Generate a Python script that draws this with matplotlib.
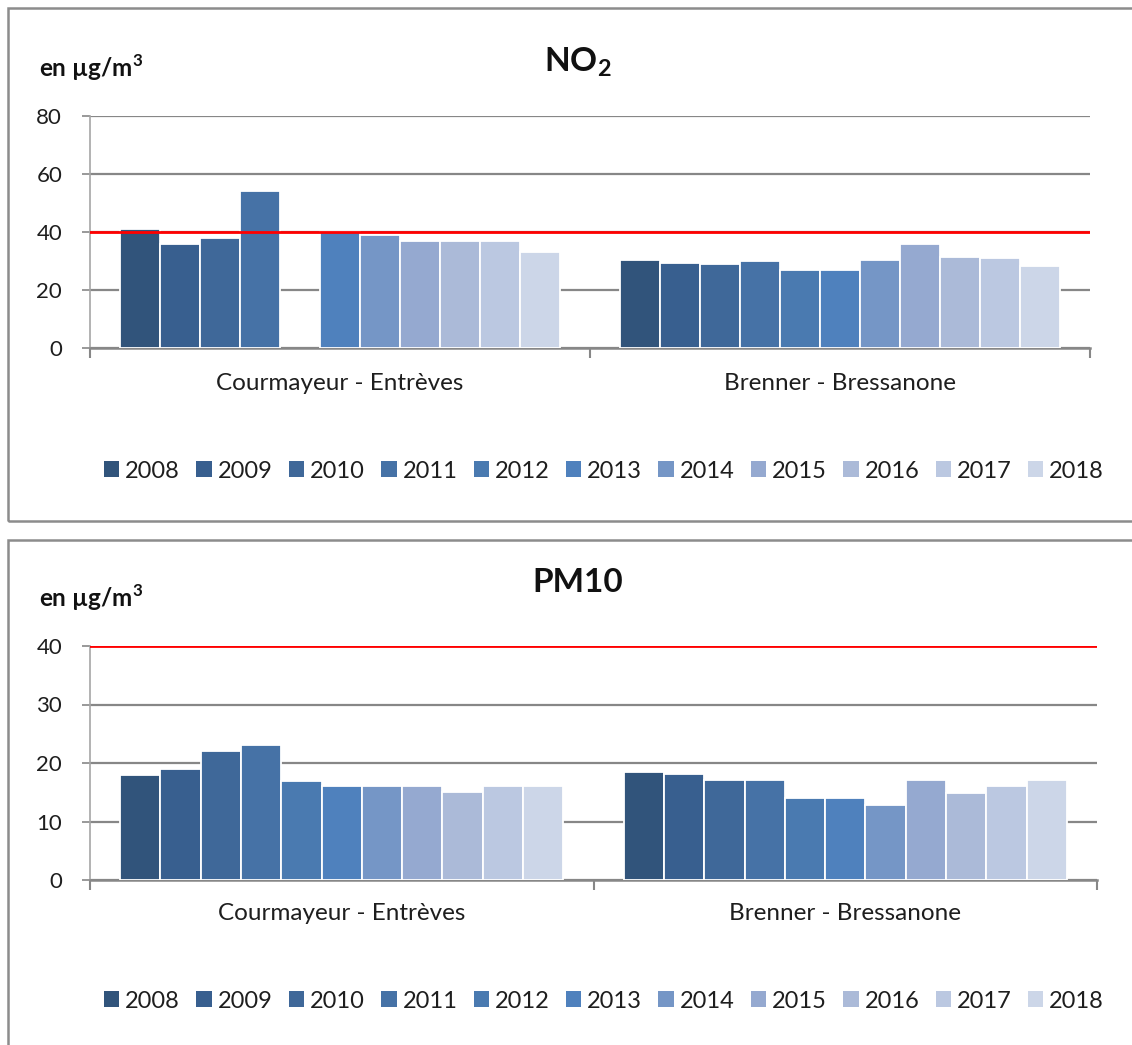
import numpy as np
import matplotlib
matplotlib.use("Agg")
import matplotlib.pyplot as plt
from matplotlib.patches import Rectangle, Patch

plt.rcParams['font.family'] = ['Lato', 'DejaVu Sans']

# ---------------- data ----------------
stations = ["Courmayeur - Entrèves", "Brenner - Bressanone"]
years = ["2008", "2009", "2010", "2011", "2012", "2013", "2014", "2015", "2016", "2017", "2018"]
colors = ["#31547b", "#385f8f", "#3f6899", "#4672a6", "#4a7ab0", "#4f81bd",
          "#7596c6", "#95a9d0", "#abbad8", "#bbc8e1", "#ccd6e8"]

# NO2 annual means (µg/m3), one list per station, ordered by year
no2_courmayeur = [41, 36, 38, 54, np.nan, 40, 39, 37, 37, 37, 33]
no2_brenner = [30.5, 29.2, 28.9, 30.1, 27, 27, 30.5, 35.7, 31.5, 30.9, 28.4]
no2_limit = 40

# PM10 annual means (µg/m3)
pm10_courmayeur = [18, 19, 22, 23, 17, 16, 16, 16, 15, 16, 16]
pm10_brenner = [18.4, 18.2, 17.1, 17.1, 14, 14, 12.9, 17.1, 14.9, 16, 17.1]
pm10_limit = 40

no2_ticks = [0, 20, 40, 60, 80]
pm10_ticks = [0, 10, 20, 30, 40]

# ---------------- figure ----------------
W, H = 1132, 1045
fig = plt.figure(figsize=(W / 100, H / 100), dpi=100)
fig.patch.set_facecolor("white")

def fx(x):
    return x / W

def fy(y):
    return 1 - y / H

frame_col = "#8c8c8c"
# outer chart frames (extend beyond image on right / bottom)
fig.add_artist(Rectangle((fx(8), fy(521)), fx(1200), fy(8) - fy(521),
                         transform=fig.transFigure, fill=False,
                         edgecolor=frame_col, linewidth=1.8))
fig.add_artist(Rectangle((fx(8), fy(1100)), fx(1200), fy(540) - fy(1100),
                         transform=fig.transFigure, fill=False,
                         edgecolor=frame_col, linewidth=1.8))

grid_col = "#878787"
txt_col = "#1e1e1e"


def draw_panel(ax_box, c_vals, b_vals, limit, ticks, title_parts, title_y,
               unit_y, cat_y, leg_y):
    left, right, top, bottom = ax_box
    ax = fig.add_axes([fx(left), fy(bottom), fx(right - left), fy(top) - fy(bottom)])
    slot = 0.08
    x = np.arange(len(stations))
    for i, yr in enumerate(years):
        vals = [c_vals[i], b_vals[i]]
        ax.bar(x + (i - 5) * slot, vals, width=slot, color=colors[i],
               edgecolor="white", linewidth=1.3, zorder=3, label=yr)
    ax.axhline(limit, color="#ff0000", linewidth=2.0, zorder=4)
    ax.set_xlim(-0.5, 1.5)
    ax.set_ylim(ticks[0], ticks[-1])
    ax.set_yticks(ticks)
    ax.set_yticklabels([str(t) for t in ticks], fontsize=16, color=txt_col)
    ax.yaxis.grid(True, color=grid_col, linewidth=1.6, zorder=0)
    ax.set_axisbelow(True)
    ax.set_xticks([-0.5, 0.5, 1.5])
    ax.set_xticklabels([])
    ax.tick_params(axis="x", direction="out", length=7, width=1.5, color=grid_col)
    ax.tick_params(axis="y", direction="out", length=6, width=1.2, color=grid_col, pad=14)
    for s in ["top", "right"]:
        ax.spines[s].set_visible(False)
    ax.spines["left"].set_color("#a6a6a6")
    ax.spines["left"].set_linewidth(1.2)
    ax.spines["bottom"].set_color(grid_col)
    ax.spines["bottom"].set_linewidth(1.8)
    # category labels
    yrel = -(cat_y - bottom) / (bottom - top)
    for xi, name in zip(x, stations):
        ax.text(xi, yrel, name, transform=ax.get_xaxis_transform(),
                ha="center", va="center", fontsize=17.5, color=txt_col)
    # title and unit
    fig.text(fx(578), fy(title_y), title_parts, ha="center", va="center",
             fontsize=24, fontweight="bold", color="#111111")
    fig.text(fx(39), fy(unit_y), r"en µg/m$^\mathregular{3}$", ha="left", va="center",
             fontsize=17.5, fontweight="bold", color="#111111")
    # legend
    handles = [Patch(facecolor=c, edgecolor="none") for c in colors]
    fig.legend(handles, years, loc="center", bbox_to_anchor=(fx(604), fy(leg_y)),
               ncol=len(years), frameon=False, fontsize=17,
               handlelength=0.65, handleheight=0.65, handletextpad=0.25,
               columnspacing=0.69, labelcolor=txt_col)
    return ax


draw_panel((90, 1090, 116, 348), no2_courmayeur, no2_brenner, no2_limit,
           no2_ticks, r"NO$_\mathregular{2}$", 62, 68, 383, 471)
draw_panel((90, 1097, 646, 880), pm10_courmayeur, pm10_brenner, pm10_limit,
           pm10_ticks, "PM10", 582, 598, 914, 1001)

fig.savefig("out.png", dpi=100)
